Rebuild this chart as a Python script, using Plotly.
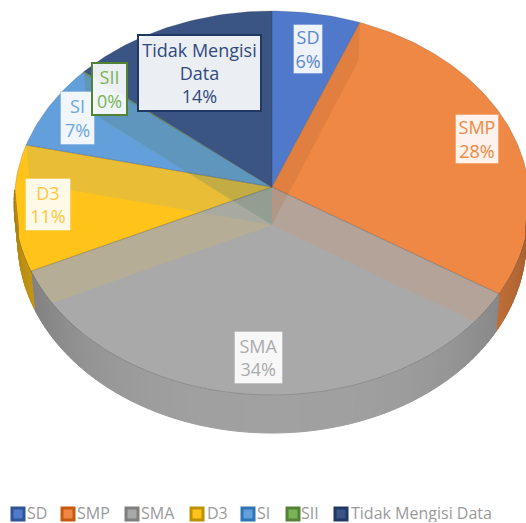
import math
import plotly.graph_objects as go

categories = ["SD", "SMP", "SMA", "D3", "SI", "SII", "Tidak Mengisi Data"]
values = [6.0, 28.0, 34.0, 10.6, 7.3, 0.1, 14.0]

# styles
top_colors = ["#5079CB", "#EE8844", "#A9A9A9", "#FFC31A", "#639FDB", "#7AB356", "#3A5484"]
legend_edge = ["#2F5597", "#C55A11", "#7F7F7F", "#BF9000", "#2E75B6", "#548235", "#1F3864"]
text_colors = ["#5B87D0", "#EE8844", "#ABABAB", "#FFC740", "#6CA6DF", "#7AB356", "#2F4A80"]
label_boxes = [  # centre x, centre y, w, h, border width
    (308, 49, 30, 50, 1), (477, 139, 44, 50, 1), (258, 357, 49, 53, 1), (48, 204, 46, 53, 1),
    (77, 118, 35, 54, 1), (109, 89, 37, 54, 2), (199, 73, 125, 78, 2),
]
legend_x = [10, 60, 124, 189, 240, 285, 333]
legend_text_x = [26, 76, 140, 206, 256, 300, 350]
LEG_Y = 513

# perspective projection of the pie disc
CX, CY, R, B, K, DEPTH, XS = 272, 187, 257, 190.7, 0.0833, 38, 0.985


def rim(theta, level=0.0):
    u, v = math.sin(theta), math.cos(theta)
    d = 1 + K * v
    x = R * u / d
    y = -B * v / d
    return CX + x * (1 - (1 - XS) * level), CY + y + DEPTH * level


def shade(hex_color, f):
    c = [int(hex_color[i:i + 2], 16) for i in (1, 3, 5)]
    return "rgb(%d,%d,%d)" % tuple(min(255, round(x * f)) for x in c)


def rgba(hex_color, a):
    c = [int(hex_color[i:i + 2], 16) for i in (1, 3, 5)]
    return "rgba(%d,%d,%d,%.2f)" % (c[0], c[1], c[2], a)


total = sum(values)
angles = [0.0]
for val in values:
    angles.append(angles[-1] + val / total * 2 * math.pi)

fig = go.Figure()


def poly(xs, ys, fill, line=None, width=0):
    fig.add_trace(go.Scatter(x=xs, y=ys, mode="lines", fill="toself", fillcolor=fill,
                             line=dict(color=line or "rgba(0,0,0,0)", width=width),
                             hoverinfo="skip", showlegend=False))


# top faces
for i in range(len(values)):
    n = max(2, int((angles[i + 1] - angles[i]) / 0.02))
    ts = [angles[i] + (angles[i + 1] - angles[i]) * k / n for k in range(n + 1)]
    pts = [rim(t) for t in ts]
    poly([CX] + [p[0] for p in pts] + [CX], [CY] + [p[1] for p in pts] + [CY], top_colors[i])

# inner radial walls seen through the translucent top
for i in range(len(values) - 1):
    a = angles[i + 1]
    if a < math.pi / 2:
        wall, alpha = "#A0522D", 0.16
    elif a < math.pi:
        wall, alpha = top_colors[i], 0.16
    else:
        wall, alpha = top_colors[i + 1], 0.14
    p0 = rim(a)
    p1 = rim(a, 1)
    poly([CX, p0[0], p1[0], CX, CX], [CY, p0[1], p1[1], CY + DEPTH, CY], rgba(wall, alpha))

# outer wall
for i in range(len(values)):
    a0, a1 = angles[i], angles[i + 1]
    n = max(1, int((a1 - a0) / 0.02))
    for k in range(n):
        t0 = a0 + (a1 - a0) * k / n
        t1 = a0 + (a1 - a0) * (k + 1) / n
        tm = (t0 + t1) / 2
        if math.cos(tm) > -0.02:
            continue
        f = 0.95 - 0.25 * abs(math.sin(tm)) ** 3
        ps = [rim(t0), rim(t1), rim(t1, 1), rim(t0, 1), rim(t0)]
        col = shade(top_colors[i], f)
        poly([p[0] for p in ps], [p[1] for p in ps], col, col, 1)

# rim and spoke lines
for i in range(len(values)):
    n = max(2, int((angles[i + 1] - angles[i]) / 0.02))
    ts = [angles[i] + (angles[i + 1] - angles[i]) * k / n for k in range(n + 1)]
    pts = [rim(t) for t in ts]
    fig.add_trace(go.Scatter(x=[CX] + [p[0] for p in pts] + [CX], y=[CY] + [p[1] for p in pts] + [CY],
                             mode="lines", line=dict(color=rgba("#404040", 0.25), width=0.8),
                             hoverinfo="skip", showlegend=False))

# legend
for i, name in enumerate(categories):
    fig.add_trace(go.Scatter(x=[legend_x[i] + 8], y=[LEG_Y + 1], mode="markers",
                             marker=dict(symbol="square", size=12, color=top_colors[i],
                                         line=dict(color=legend_edge[i], width=3)),
                             hoverinfo="skip", showlegend=False))

annotations = []
for i, name in enumerate(categories):
    annotations.append(dict(x=legend_text_x[i], y=LEG_Y, xref="x", yref="y", xanchor="left", yanchor="middle",
                            text=name, showarrow=False, height=18, borderpad=0, valign="middle",
                            font=dict(family="Open Sans", size=16, color="#9A9A9A")))
    cx, cy, w, h, bw = label_boxes[i]
    pct = round(values[i] / total * 100)
    nm = "Tidak Mengisi<br>Data" if name.startswith("Tidak") else name
    annotations.append(dict(x=cx, y=cy, xref="x", yref="y", xanchor="center", yanchor="middle",
                            text=f"{nm}<br>{pct}%", showarrow=False, width=w - 2 * bw, height=h - 2 * bw,
                            align="center", valign="middle", borderpad=0,
                            bgcolor="rgba(255,255,255,0.9)", borderwidth=bw,
                            bordercolor=legend_edge[i] if bw == 2 else rgba(top_colors[i], 0.35),
                            font=dict(family="Open Sans", size=18, color=text_colors[i])))

fig.update_layout(
    width=526, height=523, margin=dict(l=0, r=0, t=0, b=0), autosize=False,
    paper_bgcolor="white", plot_bgcolor="white", showlegend=False,
    xaxis=dict(range=[0, 526], visible=False, fixedrange=True),
    yaxis=dict(range=[523, 0], visible=False, fixedrange=True),
    annotations=annotations,
)
fig.write_html("out.html", config={"displayModeBar": False},
               post_script="document.body.style.margin='0';document.body.style.overflow='hidden';")
